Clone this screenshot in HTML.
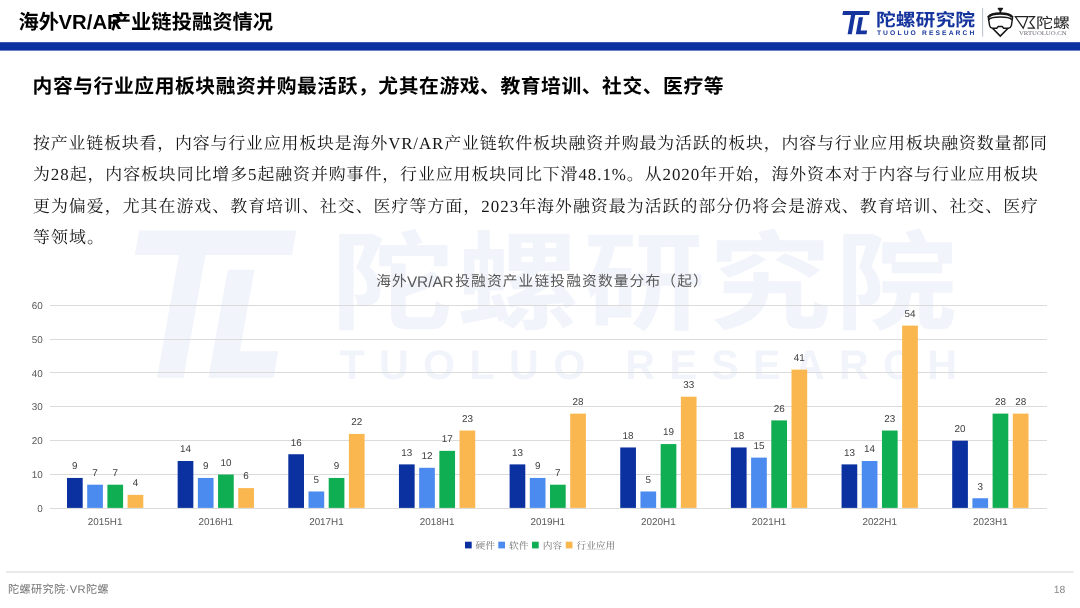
<!DOCTYPE html>
<html lang="zh-CN"><head><meta charset="utf-8"><title>海外VR/AR产业链投融资情况</title>
<style>
html,body{margin:0;padding:0;background:#fff;}
body{width:1080px;height:608px;overflow:hidden;font-family:"Liberation Sans","Noto Sans CJK SC",sans-serif;}
svg{display:block;will-change:transform;}
svg text.srf{font-family:"Liberation Serif","Noto Serif CJK SC",serif;}
svg text{font-family:"Liberation Sans","Noto Sans CJK SC",sans-serif;text-rendering:geometricPrecision;}
</style></head><body>
<svg width="1080" height="608" viewBox="0 0 1080 608">
<rect width="1080" height="608" fill="#fff"/>
<polygon points="139.15,230.60 296.35,230.60 291.98,255.00 134.78,255.00" fill="#f1f4fb"/><polygon points="178.98,255.00 205.48,255.00 183.50,377.80 157.00,377.80" fill="#f1f4fb"/><polygon points="227.73,269.80 254.43,269.80 239.86,351.20 278.36,351.20 273.60,377.80 208.40,377.80" fill="#f1f4fb"/>
<text transform="translate(331 321) scale(1.135 1)" font-size="107.5" letter-spacing="3.5" font-weight="bold" fill="#f1f4fb">陀螺研究院</text>
<text x="339.5" y="379.3" font-family="Liberation Sans, sans-serif" font-weight="bold" font-size="41.3" fill="#f1f4fb" textLength="617.5" lengthAdjust="spacing">TUOLUO RESEARCH</text>
<text y="28.5" font-size="20.3" font-weight="bold" fill="#000"><tspan x="18.5">海外</tspan><tspan x="58.6">VR/AR</tspan><tspan x="110.8">产业链投融资情况</tspan></text>
<rect x="0" y="42.2" width="1080" height="8.4" fill="#0a319f"/>
<polygon points="843.11,11.10 869.81,11.10 869.12,15.00 842.42,15.00" fill="#15349d"/><polygon points="851.02,15.00 855.22,15.00 851.80,34.20 847.60,34.20" fill="#15349d"/><polygon points="858.83,17.20 863.03,17.20 860.68,30.40 867.18,30.40 866.50,34.20 855.80,34.20" fill="#15349d"/>
<text x="876.0" y="25.75" font-size="17.6" font-weight="bold" fill="#15349d" textLength="99" lengthAdjust="spacingAndGlyphs">陀螺研究院</text>
<text x="876.9" y="34.6" font-family="Liberation Sans, sans-serif" font-weight="bold" font-size="6.7" fill="#15349d" textLength="97.5" lengthAdjust="spacing">TUOLUO RESEARCH</text>
<rect x="982.2" y="7.8" width="0.9" height="28.7" fill="#b4b9c6"/>
<path d="M 997.62,8.50 Q 997.62,7.73 998.56,7.73 L 1002.24,7.73 Q 1003.18,7.73 1003.18,8.50 L 1001.88,10.39 L 1001.29,10.63 L 1001.29,12.88 L 999.51,12.88 L 999.51,10.63 L 998.92,10.39 Z" fill="#161616"/><path d="M 988.50,17.14 C 991.40,12.35 1009.16,12.35 1012.06,17.14" fill="none" stroke="#161616" stroke-width="2.35"/><path d="M 988.74,19.63 C 991.99,16.26 1008.57,16.26 1011.83,19.63" fill="none" stroke="#161616" stroke-width="1.5"/><path d="M 988.14,15.84 L 988.62,19.51 L 989.62,25.61 Q 990.10,27.98 992.58,28.27 L 996.73,28.27 L 998.21,26.50 L 1002.24,26.50 L 1003.66,28.27 L 1008.27,28.27 Q 1010.76,27.98 1011.35,25.61 L 1012.30,19.51 L 1012.66,15.84" fill="none" stroke="#161616" stroke-width="1.45" stroke-linejoin="round"/><path d="M 992.76,28.51 L 1000.28,36.03 L 1007.80,28.51" fill="none" stroke="#161616" stroke-width="1.65" stroke-linejoin="miter"/>
<path d="M 1015.30,16.55 L 1027.82,16.55 L 1023.24,28.16 Z" fill="none" stroke="#222" stroke-width="1.2" stroke-linejoin="miter"/>
<path d="M 1028.36,16.55 L 1034.56,16.55 L 1029.98,22.20 L 1034.38,28.16 L 1027.57,28.16" fill="none" stroke="#222" stroke-width="1.2" stroke-linejoin="miter"/>
<text x="1035.9" y="27.5" font-size="14.5" fill="#262626" textLength="34" lengthAdjust="spacingAndGlyphs">陀螺</text>
<text x="1019" y="34.9" class="srf" font-size="5.6" fill="#6b6270" textLength="47.6" lengthAdjust="spacingAndGlyphs">VRTUOLUO.CN</text>
<text x="32.6" y="92.6" font-size="19.8" font-weight="bold" fill="#000" textLength="691" lengthAdjust="spacing">内容与行业应用板块融资并购最活跃，尤其在游戏、教育培训、社交、医疗等</text>
<text x="33.0" y="148.5" class="srf" font-size="16.9" fill="#161616" textLength="1014" lengthAdjust="spacing">按产业链板块看，内容与行业应用板块是海外VR/AR产业链软件板块融资并购最为活跃的板块，内容与行业应用板块融资数量都同</text>
<text x="33.0" y="180.0" class="srf" font-size="16.9" fill="#161616" textLength="1005" lengthAdjust="spacing">为28起，内容板块同比增多5起融资并购事件，行业应用板块同比下滑48.1%。从2020年开始，海外资本对于内容与行业应用板块</text>
<text x="33.0" y="211.5" class="srf" font-size="16.9" fill="#161616" textLength="1005" lengthAdjust="spacing">更为偏爱，尤其在游戏、教育培训、社交、医疗等方面，2023年海外融资最为活跃的部分仍将会是游戏、教育培训、社交、医疗</text>
<text x="33.0" y="243.0" class="srf" font-size="16.9" fill="#161616" letter-spacing="1.08">等领域。</text>
<rect x="50" y="508" width="997" height="1" fill="#dbdbdb"/>
<text x="42.8" y="512.00" text-anchor="end" font-family="Liberation Sans, sans-serif" font-size="9.9" fill="#595959">0</text>
<rect x="50" y="474" width="997" height="1" fill="#dbdbdb"/>
<text x="42.8" y="478.15" text-anchor="end" font-family="Liberation Sans, sans-serif" font-size="9.9" fill="#595959">10</text>
<rect x="50" y="440" width="997" height="1" fill="#dbdbdb"/>
<text x="42.8" y="444.30" text-anchor="end" font-family="Liberation Sans, sans-serif" font-size="9.9" fill="#595959">20</text>
<rect x="50" y="406" width="997" height="1" fill="#dbdbdb"/>
<text x="42.8" y="410.45" text-anchor="end" font-family="Liberation Sans, sans-serif" font-size="9.9" fill="#595959">30</text>
<rect x="50" y="372" width="997" height="1" fill="#dbdbdb"/>
<text x="42.8" y="376.60" text-anchor="end" font-family="Liberation Sans, sans-serif" font-size="9.9" fill="#595959">40</text>
<rect x="50" y="339" width="997" height="1" fill="#dbdbdb"/>
<text x="42.8" y="342.75" text-anchor="end" font-family="Liberation Sans, sans-serif" font-size="9.9" fill="#595959">50</text>
<rect x="50" y="305" width="997" height="1" fill="#dbdbdb"/>
<text x="42.8" y="308.90" text-anchor="end" font-family="Liberation Sans, sans-serif" font-size="9.9" fill="#595959">60</text>
<text x="376.2" y="286.3" font-size="14.7" fill="#585858" textLength="30.6" lengthAdjust="spacing">海外</text>
<text x="406.9" y="286.6" font-family="Liberation Sans, sans-serif" font-size="15.4" fill="#585858" textLength="46.8" lengthAdjust="spacingAndGlyphs">VR/AR</text>
<text x="455.2" y="286.3" font-size="14.7" fill="#585858" textLength="252.5" lengthAdjust="spacing">投融资产业链投融资数量分布（起）</text>
<rect x="67.00" y="477.94" width="15.7" height="29.96" fill="#0a319f"/><rect x="87.20" y="484.70" width="15.7" height="23.20" fill="#4b8bef"/><rect x="107.40" y="484.70" width="15.7" height="23.20" fill="#10ae52"/><rect x="127.60" y="494.86" width="15.7" height="13.04" fill="#fbb74f"/><rect x="177.65" y="461.01" width="15.7" height="46.89" fill="#0a319f"/><rect x="197.85" y="477.94" width="15.7" height="29.96" fill="#4b8bef"/><rect x="218.05" y="474.55" width="15.7" height="33.35" fill="#10ae52"/><rect x="238.25" y="488.09" width="15.7" height="19.81" fill="#fbb74f"/><rect x="288.30" y="454.24" width="15.7" height="53.66" fill="#0a319f"/><rect x="308.50" y="491.47" width="15.7" height="16.42" fill="#4b8bef"/><rect x="328.70" y="477.94" width="15.7" height="29.96" fill="#10ae52"/><rect x="348.90" y="433.93" width="15.7" height="73.97" fill="#fbb74f"/><rect x="398.95" y="464.39" width="15.7" height="43.50" fill="#0a319f"/><rect x="419.15" y="467.78" width="15.7" height="40.12" fill="#4b8bef"/><rect x="439.35" y="450.85" width="15.7" height="57.04" fill="#10ae52"/><rect x="459.55" y="430.54" width="15.7" height="77.35" fill="#fbb74f"/><rect x="509.60" y="464.39" width="15.7" height="43.50" fill="#0a319f"/><rect x="529.80" y="477.94" width="15.7" height="29.96" fill="#4b8bef"/><rect x="550.00" y="484.70" width="15.7" height="23.20" fill="#10ae52"/><rect x="570.20" y="413.62" width="15.7" height="94.28" fill="#fbb74f"/><rect x="620.25" y="447.47" width="15.7" height="60.43" fill="#0a319f"/><rect x="640.45" y="491.47" width="15.7" height="16.42" fill="#4b8bef"/><rect x="660.65" y="444.08" width="15.7" height="63.81" fill="#10ae52"/><rect x="680.85" y="396.69" width="15.7" height="111.20" fill="#fbb74f"/><rect x="730.90" y="447.47" width="15.7" height="60.43" fill="#0a319f"/><rect x="751.10" y="457.62" width="15.7" height="50.27" fill="#4b8bef"/><rect x="771.30" y="420.39" width="15.7" height="87.51" fill="#10ae52"/><rect x="791.50" y="369.62" width="15.7" height="138.28" fill="#fbb74f"/><rect x="841.55" y="464.39" width="15.7" height="43.50" fill="#0a319f"/><rect x="861.75" y="461.01" width="15.7" height="46.89" fill="#4b8bef"/><rect x="881.95" y="430.54" width="15.7" height="77.35" fill="#10ae52"/><rect x="902.15" y="325.61" width="15.7" height="182.29" fill="#fbb74f"/><rect x="952.20" y="440.70" width="15.7" height="67.20" fill="#0a319f"/><rect x="972.40" y="498.25" width="15.7" height="9.65" fill="#4b8bef"/><rect x="992.60" y="413.62" width="15.7" height="94.28" fill="#10ae52"/><rect x="1012.80" y="413.62" width="15.7" height="94.28" fill="#fbb74f"/>
<g font-family="Liberation Sans, sans-serif" font-size="9.9" fill="#404040" text-anchor="middle"><text x="74.85" y="469.33">9</text><text x="95.05" y="476.10">7</text><text x="115.25" y="476.10">7</text><text x="135.45" y="486.26">4</text><text x="105.15" y="524.7" fill="#595959">2015H1</text><text x="185.50" y="452.41">14</text><text x="205.70" y="469.33">9</text><text x="225.90" y="465.95">10</text><text x="246.10" y="479.49">6</text><text x="215.80" y="524.7" fill="#595959">2016H1</text><text x="296.15" y="445.64">16</text><text x="316.35" y="482.87">5</text><text x="336.55" y="469.33">9</text><text x="356.75" y="425.33">22</text><text x="326.45" y="524.7" fill="#595959">2017H1</text><text x="406.80" y="455.79">13</text><text x="427.00" y="459.18">12</text><text x="447.20" y="442.25">17</text><text x="467.40" y="421.94">23</text><text x="437.10" y="524.7" fill="#595959">2018H1</text><text x="517.45" y="455.79">13</text><text x="537.65" y="469.33">9</text><text x="557.85" y="476.10">7</text><text x="578.05" y="405.02">28</text><text x="547.75" y="524.7" fill="#595959">2019H1</text><text x="628.10" y="438.87">18</text><text x="648.30" y="482.87">5</text><text x="668.50" y="435.48">19</text><text x="688.70" y="388.09">33</text><text x="658.40" y="524.7" fill="#595959">2020H1</text><text x="738.75" y="438.87">18</text><text x="758.95" y="449.02">15</text><text x="779.15" y="411.79">26</text><text x="799.35" y="361.01">41</text><text x="769.05" y="524.7" fill="#595959">2021H1</text><text x="849.40" y="455.79">13</text><text x="869.60" y="452.41">14</text><text x="889.80" y="421.94">23</text><text x="910.00" y="317.01">54</text><text x="879.70" y="524.7" fill="#595959">2022H1</text><text x="960.05" y="432.10">20</text><text x="980.25" y="489.64">3</text><text x="1000.45" y="405.02">28</text><text x="1020.65" y="405.02">28</text><text x="990.35" y="524.7" fill="#595959">2023H1</text></g>
<rect x="465.0" y="541.7" width="6.7" height="6.7" fill="#0a319f"/>
<text x="475.6" y="548.6" class="srf" font-size="9.7" fill="#707070">硬件</text>
<rect x="498.3" y="541.7" width="6.7" height="6.7" fill="#4b8bef"/>
<text x="509.0" y="548.6" class="srf" font-size="9.7" fill="#707070">软件</text>
<rect x="532.0" y="541.7" width="6.7" height="6.7" fill="#10ae52"/>
<text x="542.8" y="548.6" class="srf" font-size="9.7" fill="#707070">内容</text>
<rect x="565.8" y="541.7" width="6.7" height="6.7" fill="#fbb74f"/>
<text x="576.5" y="548.6" class="srf" font-size="9.7" fill="#707070">行业应用</text>
<rect x="6" y="571.4" width="1067.5" height="1.2" fill="#dcdcdc"/>
<text x="8.0" y="593.4" font-size="11.1" fill="#727272" textLength="100.5" lengthAdjust="spacing">陀螺研究院·VR陀螺</text>
<text x="1065.4" y="593.3" text-anchor="end" font-family="Liberation Sans, sans-serif" font-size="10.4" fill="#8a8a8a">18</text>
<g font-family="Liberation Sans, sans-serif"></g>
</svg>
</body></html>
